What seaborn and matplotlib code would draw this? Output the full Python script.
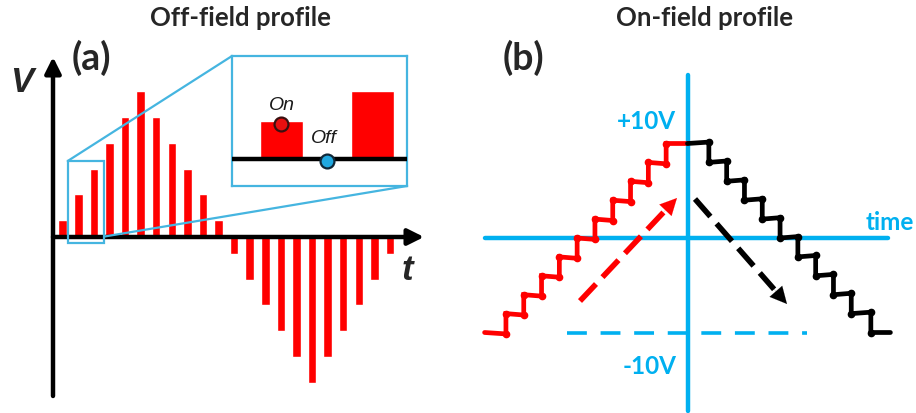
import numpy as np
import pandas as pd
import matplotlib
matplotlib.use("Agg")
import matplotlib.pyplot as plt
import seaborn as sns
from matplotlib.patches import Rectangle

sns.set_theme(style="white")
plt.rcParams['font.family'] = ['Lato', 'DejaVu Sans']

# ---------------- data ----------------
# Panel (a): off-field pulse amplitudes (arbitrary units)
bar_index = list(range(22))
bar_heights = [0.65, 1.65, 2.65, 3.65, 4.65, 5.65, 4.65, 3.65, 2.65, 1.65, 0.65,
               -0.65, -1.65, -2.65, -3.65, -4.65, -5.65, -4.65, -3.65, -2.65, -1.65, -0.65]
# inset: zoom of two pulses
inset_index = [0, 1]
inset_heights = [1.0, 1.78]

# Panel (b): on-field staircase (time in step units, voltage in V)
red_step_times = [-10.2, -9.2, -8.2, -7.2, -6.2, -5.2, -4.2, -3.2, -2.2, -1.2]
red_levels = [-10, -8, -6, -4, -2, 0, 2, 4, 6, 8, 10]
red_start, red_end = -11.4, 0.0
black_step_times = [1.2, 2.2, 3.2, 4.2, 5.2, 6.2, 7.2, 8.2, 9.2, 10.3]
black_levels = [10, 8, 6, 4, 2, 0, -2, -4, -6, -8, -10]
black_start, black_end = 0.0, 11.4
tilt = 0.15   # V, small droop of each plateau

RED = "#ff0000"
BLUE = "#00b0f0"
FRAME = "#45b5e0"

W, H = 916, 414
fig = plt.figure(figsize=(W / 100, H / 100), dpi=100)

# ---------------- panel (a) ----------------
ax = fig.add_axes([0, 0, 460 / W, 1])
x0, dx = 62.67, 15.587
y0, dy = 238.0, 25.8
ax.set_xlim((0 - x0) / dx, (460 - x0) / dx)
ax.set_ylim((y0 - 414) / dy, (y0 - 0) / dy)
ax.axis("off")

df_a = pd.DataFrame({"i": bar_index, "h": bar_heights})
ax.bar(df_a["i"], df_a["h"], width=8.5 / dx, color=RED, zorder=2)

ax_x = (53 - x0) / dx
ax.annotate("", xy=(ax_x, (y0 - 58) / dy), xytext=(ax_x, (y0 - 397) / dy),
            arrowprops=dict(arrowstyle="-|>", lw=3.2, color="black", mutation_scale=24,
                            shrinkA=0, shrinkB=0), zorder=3)
ax.annotate("", xy=((424 - x0) / dx, 0), xytext=(ax_x, 0),
            arrowprops=dict(arrowstyle="-|>", lw=3.2, color="black", mutation_scale=24,
                            shrinkA=0, shrinkB=0), zorder=3)

ax.text((22 - x0) / dx, (y0 - 82) / dy, "V", fontsize=25, fontstyle="italic", fontweight="bold",
        family=["Liberation Sans", "DejaVu Sans"], ha="center", va="center")
ax.text((407 - x0) / dx, (y0 - 271) / dy, "t", fontsize=25, fontstyle="italic", fontweight="bold",
        family=["Liberation Sans", "DejaVu Sans"], ha="center", va="center")
ax.text((91 - x0) / dx, (y0 - 58) / dy, "(a)", fontsize=27, fontweight="bold",
        ha="center", va="center")

# small zoom frame
sx0, sx1 = (67.7 - x0) / dx, (104.3 - x0) / dx
sy0, sy1 = (y0 - 244) / dy, (y0 - 162) / dy
ax.add_patch(Rectangle((sx0, sy0), sx1 - sx0, sy1 - sy0, fill=False, ec=FRAME, lw=1.6, zorder=4))
# big inset frame corners
bx0, bx1 = (232 - x0) / dx, (407 - x0) / dx
by0, by1 = (y0 - 187) / dy, (y0 - 57) / dy
ax.plot([sx0, bx0], [sy1, by1], color=FRAME, lw=1.6, zorder=4)
ax.plot([sx1, bx1], [sy0 + 0.25, by0], color=FRAME, lw=1.6, zorder=4)

# inset axes
ins = fig.add_axes([232 / W, 1 - 187 / H, 175 / W, 130 / H])
ix0, idx = 281.5, 91.0
iy0, idy = 160.0, 38.3
ins.set_xlim((232 - ix0) / idx, (407 - ix0) / idx)
ins.set_ylim((iy0 - 187) / idy, (iy0 - 57) / idy)
ins.set_xticks([]); ins.set_yticks([])
for s in ins.spines.values():
    s.set_edgecolor(FRAME); s.set_linewidth(1.6)
ins.bar(inset_index, inset_heights, width=0.48, color=RED, zorder=2)
ins.axhline(0, color="black", lw=3.2, zorder=3)
ins.plot([0], [0.91], "o", ms=10, mfc="#e81010", mec="#3a1010", mew=1.6, zorder=5)
ins.plot([0.5], [-0.05], "o", ms=10, mfc="#20a8e0", mec="#102838", mew=1.6, zorder=5)
ins.text(0.0, 1.43, "On", fontsize=14, fontstyle="italic", family=["Liberation Sans", "DejaVu Sans"],
         ha="center", va="center", color="#1a1a1a")
ins.text(0.47, 0.55, "Off", fontsize=14, fontstyle="italic", family=["Liberation Sans", "DejaVu Sans"],
         ha="center", va="center", color="#1a1a1a")

fig.text(240 / W, 1 - 18 / H, "Off-field profile", fontsize=18.5, fontweight="bold",
         ha="center", va="center")

# ---------------- panel (b) ----------------
bx = fig.add_axes([460 / W, 0, 456 / W, 1])
tx0, tdx = 687.5, 17.8
vy0, vdy = 239.0, 9.45
bx.set_xlim((460 - tx0) / tdx, (916 - tx0) / tdx)
bx.set_ylim((vy0 - 414) / vdy, (vy0 - 0) / vdy)
bx.axis("off")

bx.plot([0, 0], [(vy0 - 412) / vdy, (vy0 - 76) / vdy], color=BLUE, lw=3.2, solid_capstyle="round", zorder=2)
bx.plot([(485 - tx0) / tdx, (888 - tx0) / tdx], [0, 0], color=BLUE, lw=3.2, solid_capstyle="round", zorder=2)
bx.plot([(567 - tx0) / tdx, (807 - tx0) / tdx], [-10, -10], color=BLUE, lw=2.6,
        dashes=(5.5, 3.8), zorder=2)


def staircase(start, times, levels, end):
    xs, ys = [start], [levels[0]]
    for k, t in enumerate(times):
        sign = 1 if levels[k + 1] > levels[k] else -1
        xs.append(t); ys.append(levels[k] - sign * tilt)
        xs.append(t); ys.append(levels[k + 1])
    xs.append(end); ys.append(levels[-1])
    return xs, ys


rx, ry = staircase(red_start, red_step_times, red_levels, red_end)
kx, ky = staircase(black_start, black_step_times, black_levels, black_end)
bx.plot(rx, ry, color=RED, lw=3.4, solid_joinstyle="miter", solid_capstyle="round", zorder=3)
bx.plot(rx[1:-1], ry[1:-1], "o", color=RED, ms=4.5, zorder=3)
bx.plot(kx, ky, color="black", lw=3.4, solid_joinstyle="miter", solid_capstyle="round", zorder=3)
bx.plot(kx[1:-1], ky[1:-1], "o", color="black", ms=4.5, zorder=3)


def dashed_arrow(p0, p1, color):
    (a0, b0), (a1, b1) = p0, p1
    f = 0.86
    bx.plot([a0, a0 + f * (a1 - a0)], [b0, b0 + f * (b1 - b0)], color=color, lw=4.0,
            dashes=(4.2, 1.7), zorder=4)
    bx.annotate("", xy=(a1, b1), xytext=(a0 + 0.8 * (a1 - a0), b0 + 0.8 * (b1 - b0)),
                arrowprops=dict(arrowstyle="-|>", color=color, lw=0.1, mutation_scale=30,
                                shrinkA=0, shrinkB=0), zorder=4)


dashed_arrow(((580 - tx0) / tdx, (vy0 - 302) / vdy), ((677 - tx0) / tdx, (vy0 - 199) / vdy), RED)
dashed_arrow(((695 - tx0) / tdx, (vy0 - 200) / vdy), ((787 - tx0) / tdx, (vy0 - 305) / vdy), "black")

bx.text((646 - tx0) / tdx, (vy0 - 122) / vdy, "+10V", fontsize=17.5, fontweight="bold",
        color=BLUE, ha="center", va="center")
bx.text((650 - tx0) / tdx, (vy0 - 366) / vdy, "-10V", fontsize=17.5, fontweight="bold",
        color=BLUE, ha="center", va="center")
bx.text((914 - tx0) / tdx, (vy0 - 223) / vdy, "time", fontsize=17.5, fontweight="bold",
        color=BLUE, ha="right", va="center")
bx.text((523 - tx0) / tdx, (vy0 - 58) / vdy, "(b)", fontsize=27, fontweight="bold",
        ha="center", va="center")

fig.text(705 / W, 1 - 18 / H, "On-field profile", fontsize=18.5, fontweight="bold",
         ha="center", va="center")

fig.savefig("out.png", dpi=100)
